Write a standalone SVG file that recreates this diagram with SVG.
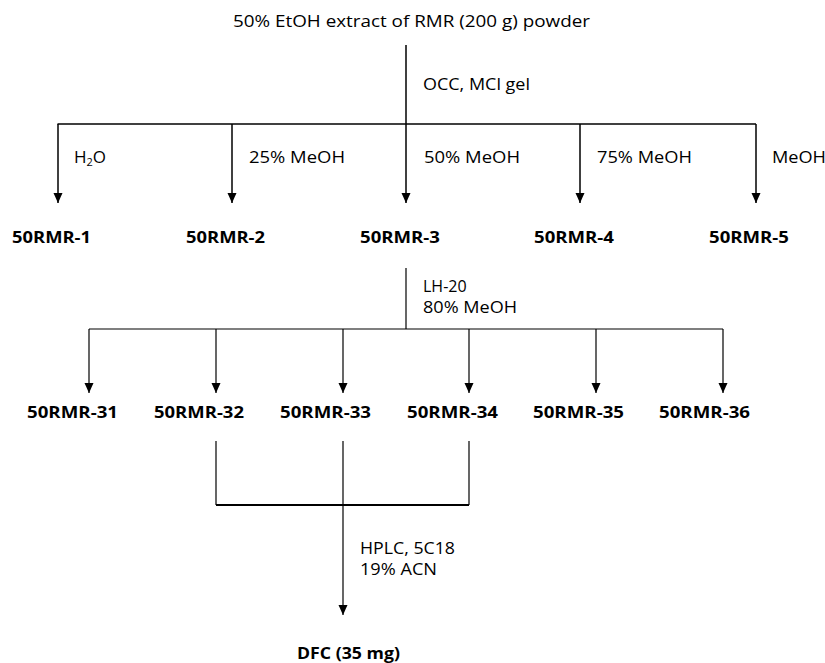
<svg xmlns="http://www.w3.org/2000/svg" width="825" height="663" viewBox="0 0 825 663">
<style>
  text { font-family: "Open Sans", "Liberation Sans", sans-serif; font-size: 17px; fill: #000; }
  .b { font-weight: bold; font-size: 16.5px; }
  .s { font-size: 16px; }
  .ln { stroke: #000; stroke-width: 1.5; fill: none; }
  .thin { stroke: #000; stroke-width: 1.2; fill: none; }
  .thick { stroke: #000; stroke-width: 2.2; fill: none; }
</style>
<defs>
  <marker id="ah" markerUnits="userSpaceOnUse" markerWidth="10" markerHeight="10" refX="10" refY="4.5" orient="auto" viewBox="0 0 10 9">
    <path d="M0,0 L10,4.5 L0,9 z" fill="#000"/>
  </marker>
</defs>
<rect width="825" height="663" fill="#fff"/>

<g id="connectors">
  <line class="ln" x1="406" y1="45" x2="406" y2="124"/>
  <line class="ln" x1="57.5" y1="124" x2="756" y2="124"/>
  <line class="ln" x1="58" y1="124" x2="58" y2="203" marker-end="url(#ah)"/>
  <line class="ln" x1="232" y1="124" x2="232" y2="203" marker-end="url(#ah)"/>
  <line class="ln" x1="406" y1="124" x2="406" y2="203" marker-end="url(#ah)"/>
  <line class="ln" x1="580" y1="124" x2="580" y2="203" marker-end="url(#ah)"/>
  <line class="ln" x1="756" y1="124" x2="756" y2="203" marker-end="url(#ah)"/>

  <line class="thin" x1="406" y1="268" x2="406" y2="329"/>
  <line class="thin" x1="89" y1="329" x2="723" y2="329"/>
  <line class="thin" x1="89" y1="329" x2="89" y2="393" marker-end="url(#ah)"/>
  <line class="thin" x1="216" y1="329" x2="216" y2="393" marker-end="url(#ah)"/>
  <line class="thin" x1="343" y1="329" x2="343" y2="393" marker-end="url(#ah)"/>
  <line class="thin" x1="469" y1="329" x2="469" y2="393" marker-end="url(#ah)"/>
  <line class="thin" x1="596" y1="329" x2="596" y2="393" marker-end="url(#ah)"/>
  <line class="thin" x1="723" y1="329" x2="723" y2="393" marker-end="url(#ah)"/>

  <line class="thin" x1="216" y1="441" x2="216" y2="505"/>
  <line class="thin" x1="469" y1="441" x2="469" y2="505"/>
  <line class="thick" x1="216" y1="505" x2="469" y2="505"/>
  <line class="thin" x1="343" y1="441" x2="343" y2="615" marker-end="url(#ah)"/>
</g>

<g id="labels">
  <text x="423" y="90" textLength="107" lengthAdjust="spacingAndGlyphs">OCC, MCl gel</text>
  <text x="74" y="163">H<tspan font-size="11" dy="3">2</tspan><tspan dy="-3">O</tspan></text>
  <text x="249" y="163" textLength="96" lengthAdjust="spacingAndGlyphs">25% MeOH</text>
  <text x="424" y="163" textLength="96" lengthAdjust="spacingAndGlyphs">50% MeOH</text>
  <text x="597" y="163" textLength="95" lengthAdjust="spacingAndGlyphs">75% MeOH</text>
  <text x="772" y="163" textLength="54" lengthAdjust="spacingAndGlyphs">MeOH</text>
  <text class="s" x="423" y="292">LH-20</text>
  <text class="s" x="423" y="313" textLength="94" lengthAdjust="spacingAndGlyphs">80% MeOH</text>
  <text class="s" x="360" y="554" textLength="95" lengthAdjust="spacingAndGlyphs">HPLC, 5C18</text>
  <text class="s" x="360" y="575" textLength="77" lengthAdjust="spacingAndGlyphs">19% ACN</text>
</g>

<g id="node-start"><text x="233" y="27" textLength="357" lengthAdjust="spacingAndGlyphs">50% EtOH extract of RMR (200 g) powder</text></g>

<g id="node-50RMR-1"><text class="b" x="12" y="243" textLength="79" lengthAdjust="spacingAndGlyphs">50RMR-1</text></g>
<g id="node-50RMR-2"><text class="b" x="186" y="243" textLength="79" lengthAdjust="spacingAndGlyphs">50RMR-2</text></g>
<g id="node-50RMR-3"><text class="b" x="360" y="243" textLength="80" lengthAdjust="spacingAndGlyphs">50RMR-3</text></g>
<g id="node-50RMR-4"><text class="b" x="534" y="243" textLength="80" lengthAdjust="spacingAndGlyphs">50RMR-4</text></g>
<g id="node-50RMR-5"><text class="b" x="709" y="243" textLength="80" lengthAdjust="spacingAndGlyphs">50RMR-5</text></g>

<g id="node-50RMR-31"><text class="b" x="27" y="418" textLength="91" lengthAdjust="spacingAndGlyphs">50RMR-31</text></g>
<g id="node-50RMR-32"><text class="b" x="154" y="418" textLength="90" lengthAdjust="spacingAndGlyphs">50RMR-32</text></g>
<g id="node-50RMR-33"><text class="b" x="280" y="418" textLength="91" lengthAdjust="spacingAndGlyphs">50RMR-33</text></g>
<g id="node-50RMR-34"><text class="b" x="407" y="418" textLength="91" lengthAdjust="spacingAndGlyphs">50RMR-34</text></g>
<g id="node-50RMR-35"><text class="b" x="533" y="418" textLength="91" lengthAdjust="spacingAndGlyphs">50RMR-35</text></g>
<g id="node-50RMR-36"><text class="b" x="659" y="418" textLength="91" lengthAdjust="spacingAndGlyphs">50RMR-36</text></g>

<g id="node-DFC"><text class="b" x="297" y="659" textLength="103" lengthAdjust="spacingAndGlyphs">DFC (35 mg)</text></g>
</svg>
